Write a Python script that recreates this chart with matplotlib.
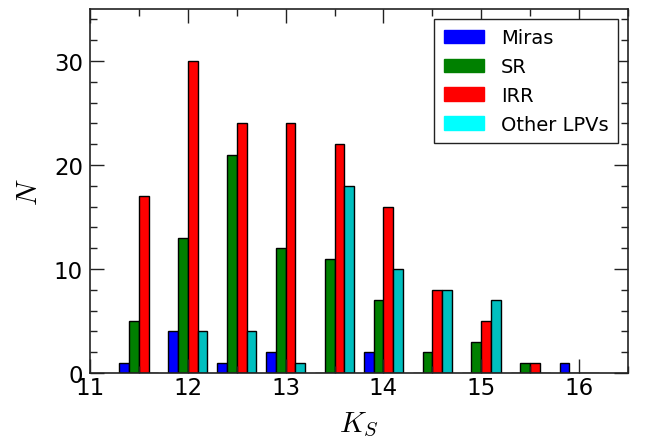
import matplotlib
matplotlib.use("Agg")
import matplotlib.pyplot as plt
from matplotlib.patches import Rectangle
from matplotlib.ticker import MultipleLocator
import numpy as np

plt.rcParams['font.family'] = ['DejaVu Sans']
plt.rcParams['mathtext.fontset'] = 'cm'

# bin centres (K_S magnitude)
ks_centers = [11.5, 12.0, 12.5, 13.0, 13.5, 14.0, 14.5, 15.0, 15.5, 16.0]
miras = [1, 4, 1, 2, 0, 2, 0, 0, 0, 1]
sr = [5, 13, 21, 12, 11, 7, 2, 3, 1, 0]
irr = [17, 30, 24, 24, 22, 16, 8, 5, 1, 0]
other = [0, 4, 4, 1, 18, 10, 8, 7, 0, 0]

labels = ['Miras', 'SR', 'IRR', 'Other LPVs']
bar_colors = [(0, 0, 1), (0, 0.5, 0), (1, 0, 0), (0, 0.75, 0.75)]
legend_colors = ['blue', 'green', 'red', 'cyan']

W, H = 649, 439
fig = plt.figure(figsize=(W / 100, H / 100), dpi=100)
ax = fig.add_axes([90 / W, (H - 374) / H, (628 - 90) / W, (374 - 10) / H])

bw = 0.1
centers = np.array(ks_centers)
series = [miras, sr, irr, other]
for i, (vals, col) in enumerate(zip(series, bar_colors)):
    ax.bar(centers + (i - 1.5) * bw, vals, width=bw, color=col,
           edgecolor='black', linewidth=1.0, align='center')

ax.set_xlim(11, 16.5)
ax.set_ylim(0, 35)
ax.xaxis.set_major_locator(MultipleLocator(1))
ax.xaxis.set_minor_locator(MultipleLocator(0.5))
ax.yaxis.set_major_locator(MultipleLocator(10))
ax.yaxis.set_minor_locator(MultipleLocator(2))
ax.tick_params(which='both', direction='in', top=True, right=True,
               width=1.0, colors='#222222', labelcolor='black')
ax.tick_params(which='major', length=10, labelsize=16.5)
ax.tick_params(axis='x', which='major', pad=2)
ax.tick_params(axis='y', which='major', pad=5)
ax.tick_params(which='minor', length=5)
for s in ax.spines.values():
    s.set_linewidth(1.2)
    s.set_color('#222222')

ax.set_xlabel(r'$K_S$', fontsize=21, labelpad=8)
ax.set_ylabel(r'$N$', fontsize=21, labelpad=8)

handles = [Rectangle((0, 0), 1, 1, facecolor=c, edgecolor=c) for c in legend_colors]
leg = ax.legend(handles, labels, loc='upper right', fontsize=14,
                fancybox=False, framealpha=1, edgecolor='#222222',
                labelspacing=0.5, handlelength=2.1, handletextpad=0.85,
                borderpad=0.5)
leg.get_frame().set_linewidth(1.0)

fig.savefig('out.png', dpi=100)
